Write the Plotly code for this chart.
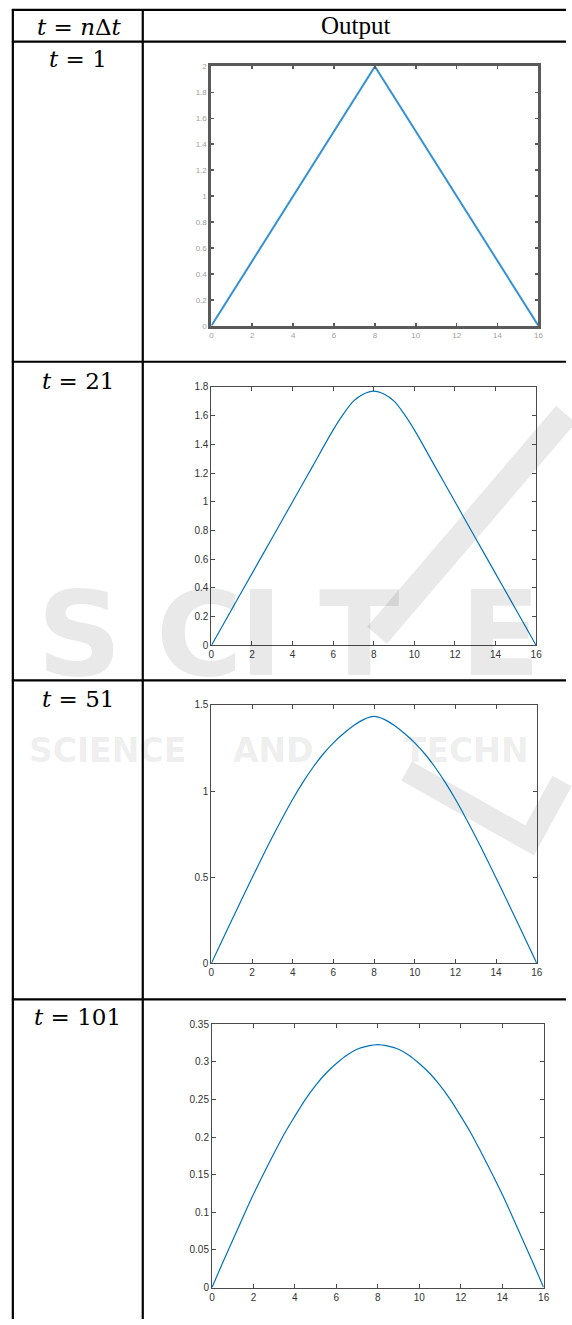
import plotly.graph_objects as go

W, H = 572, 1325

# ---------------- data ----------------
row_labels = ["<i>t</i> = 1", "<i>t</i> = 21", "<i>t</i> = 51", "<i>t</i> = 101"]
header_left = "<i>t</i> = <i>n</i>Δ<i>t</i>"
header_right = "Output"

x_t1 = [0, 8, 16]
y_t1 = [0, 2, 0]

x_t21 = [0, 1, 2, 3, 4, 5, 6, 6.5, 7, 7.5, 8, 8.5, 9, 9.5, 10, 11, 12, 13, 14, 15, 16]
y_t21 = [0, 0.25, 0.5, 0.75, 1.0, 1.25, 1.5, 1.61, 1.70, 1.75, 1.77, 1.75, 1.70, 1.61, 1.5,
         1.25, 1.0, 0.75, 0.5, 0.25, 0]

x_half = [0, 0.5, 1, 1.5, 2, 2.5, 3, 3.5, 4, 4.5, 5, 5.5, 6, 6.5, 7, 7.5, 8,
          8.5, 9, 9.5, 10, 10.5, 11, 11.5, 12, 12.5, 13, 13.5, 14, 14.5, 15, 15.5, 16]

y_t51 = [0, 0.125, 0.25, 0.373, 0.495, 0.616, 0.733, 0.845, 0.952, 1.050, 1.138, 1.215, 1.280,
         1.334, 1.380, 1.416, 1.433,
         1.416, 1.380, 1.334, 1.280, 1.215, 1.138, 1.050, 0.952, 0.845, 0.733, 0.616, 0.495,
         0.373, 0.25, 0.125, 0]

y_t101 = [0, 0.032, 0.063, 0.094, 0.124, 0.152, 0.179, 0.205, 0.228, 0.250, 0.269, 0.285,
          0.298, 0.309, 0.317, 0.321, 0.323,
          0.321, 0.317, 0.309, 0.298, 0.285, 0.269, 0.250, 0.228, 0.205, 0.179, 0.152, 0.124,
          0.094, 0.063, 0.032, 0]

x_ticks = [0, 2, 4, 6, 8, 10, 12, 14, 16]
x_ticktext = ["0", "2", "4", "6", "8", "10", "12", "14", "16"]
y_ticks_1 = [0, 0.2, 0.4, 0.6, 0.8, 1, 1.2, 1.4, 1.6, 1.8, 2]
y_ticktext_1 = ["0", "0.2", "0.4", "0.6", "0.8", "1", "1.2", "1.4", "1.6", "1.8", "2"]
y_ticks_2 = [0, 0.2, 0.4, 0.6, 0.8, 1, 1.2, 1.4, 1.6, 1.8]
y_ticktext_2 = ["0", "0.2", "0.4", "0.6", "0.8", "1", "1.2", "1.4", "1.6", "1.8"]
y_ticks_3 = [0, 0.5, 1, 1.5]
y_ticktext_3 = ["0", "0.5", "1", "1.5"]
y_ticks_4 = [0, 0.05, 0.1, 0.15, 0.2, 0.25, 0.3, 0.35]
y_ticktext_4 = ["0", "0.05", "0.1", "0.15", "0.2", "0.25", "0.3", "0.35"]

y_ranges = [[0, 2], [0, 1.8], [0, 1.5], [0, 0.35]]

# ---------------- layout helpers ----------------
def fx(px):
    return px / W

def fy(py):
    return 1 - py / H

# plot boxes in pixels: left, right, top, bottom
boxes = [
    (211.7, 544.0, 61.0, 322.7),
    (211.7, 541.7, 384.3, 645.3),
    (211.7, 542.3, 705.3, 966.0),
    (212.3, 549.3, 1027.7, 1293.3),
]

series = [(x_t1, y_t1), (x_t21, y_t21), (x_half, y_t51), (x_half, y_t101)]
yticks = [(y_ticks_1, y_ticktext_1), (y_ticks_2, y_ticktext_2),
          (y_ticks_3, y_ticktext_3), (y_ticks_4, y_ticktext_4)]

fig = go.Figure()

layout = dict(
    width=W, height=H,
    margin=dict(l=0, r=0, t=0, b=0),
    paper_bgcolor="white",
    plot_bgcolor="rgba(0,0,0,0)",
    showlegend=False,
)

for i in range(4):
    n = "" if i == 0 else str(i + 1)
    xs, ys = series[i]
    first = (i == 0)
    fig.add_trace(go.Scatter(
        x=xs, y=ys, mode="lines",
        xaxis="x" + n, yaxis="y" + n,
        line=dict(color="#3592d6" if first else "#0072BD",
                  width=2 if first else 1.2,
                  shape="linear" if first else "spline",
                  smoothing=0.9),
        hoverinfo="skip",
    ))
    l, r, t, b = boxes[i]
    axcol = "#5a5a5a" if first else "#4a4a4a"
    lw = 3 if first else 1
    tfont = dict(family="Liberation Sans, Arial, sans-serif",
                 size=8 if first else 10,
                 color="#a0a0a0" if first else "#333333")
    layout["xaxis" + n] = dict(
        domain=[fx(l), fx(r)], anchor="y" + n, range=[0, 16],
        showgrid=False, zeroline=False, showline=True, linecolor=axcol, linewidth=lw,
        mirror="ticks", ticks="inside", ticklen=4 if not first else 3,
        tickwidth=1.5 if first else 1, tickcolor=axcol,
        tickvals=x_ticks, ticktext=x_ticktext, tickfont=tfont, fixedrange=True,
    )
    tv, tt = yticks[i]
    layout["yaxis" + n] = dict(
        domain=[fy(b), fy(t)], anchor="x" + n, range=y_ranges[i],
        showgrid=False, zeroline=False, showline=True, linecolor=axcol, linewidth=lw,
        mirror="ticks", ticks="inside", ticklen=4 if not first else 3,
        tickwidth=1.5 if first else 1, tickcolor=axcol,
        tickvals=tv, ticktext=tt, tickfont=tfont, fixedrange=True,
    )

# ---------------- table lines ----------------
shapes = []
line_kw = dict(color="black", width=2.2)
for y in [4, 36, 359, 680.5, 1002.5]:
    shapes.append(dict(type="line", xref="paper", yref="paper",
                       x0=fx(9), x1=1, y0=fy(y), y1=fy(y), line=line_kw, layer="above"))
for x in [10, 142]:
    shapes.append(dict(type="line", xref="paper", yref="paper",
                       x0=fx(x), x1=fx(x), y0=fy(3), y1=0, line=line_kw, layer="above"))

# watermark strokes (light, behind)
wm = "rgba(0,0,0,0.085)"
shapes.append(dict(type="path", xref="paper", yref="paper", layer="below",
                   path="M {},{} L {},{}".format(fx(380), fy(635), fx(572), fy(412)),
                   line=dict(color=wm, width=26)))
shapes.append(dict(type="path", xref="paper", yref="paper", layer="below",
                   path="M {},{} L {},{} L {},{}".format(fx(410), fy(772), fx(535), fy(842),
                                                       fx(568), fy(782)),
                   line=dict(color=wm, width=22)))
layout["shapes"] = shapes

# ---------------- text ----------------
anns = []
math_font = dict(family="DejaVu Serif, serif", size=23, color="black")
anns.append(dict(text=header_left, x=fx(78), y=fy(21), xref="paper", yref="paper",
                 showarrow=False, font=math_font, xanchor="center", yanchor="middle"))
anns.append(dict(text=header_right, x=fx(359), y=fy(20), xref="paper", yref="paper",
                 showarrow=False, font=dict(family="Liberation Serif, Times New Roman, serif",
                                            size=25, color="black"),
                 xanchor="center", yanchor="middle"))
for lab, yc in zip(row_labels, [53, 378, 699, 1020]):
    anns.append(dict(text=lab, x=fx(76), y=fy(yc), xref="paper", yref="paper",
                     showarrow=False, font=math_font, xanchor="center", yanchor="middle"))

# watermark letters
wm_font_big = dict(family="DejaVu Sans, sans-serif", size=118, color=wm)
for ch, xc in zip(["S", "C", "I", "T", "E"], [78, 200, 262, 362, 505]):
    anns.append(dict(text="<b>" + ch + "</b>", x=fx(xc), y=fy(634), xref="paper", yref="paper",
                     showarrow=False, font=wm_font_big, xanchor="center", yanchor="middle"))
wm_font_small = dict(family="DejaVu Sans, sans-serif", size=33, color=wm)
for word, xl in zip(["SCIENCE", "AND", "TECHN"], [24, 232, 405]):
    anns.append(dict(text="<b>" + word + "</b>", x=fx(xl), y=fy(751), xref="paper",
                     yref="paper", showarrow=False, font=wm_font_small,
                     xanchor="left", yanchor="middle"))
layout["annotations"] = anns

fig.update_layout(**layout)
fig.write_html(
    "out.html",
    config={"displayModeBar": False, "staticPlot": True},
    post_script="document.body.style.margin='0';document.body.style.overflow='hidden';",
)
